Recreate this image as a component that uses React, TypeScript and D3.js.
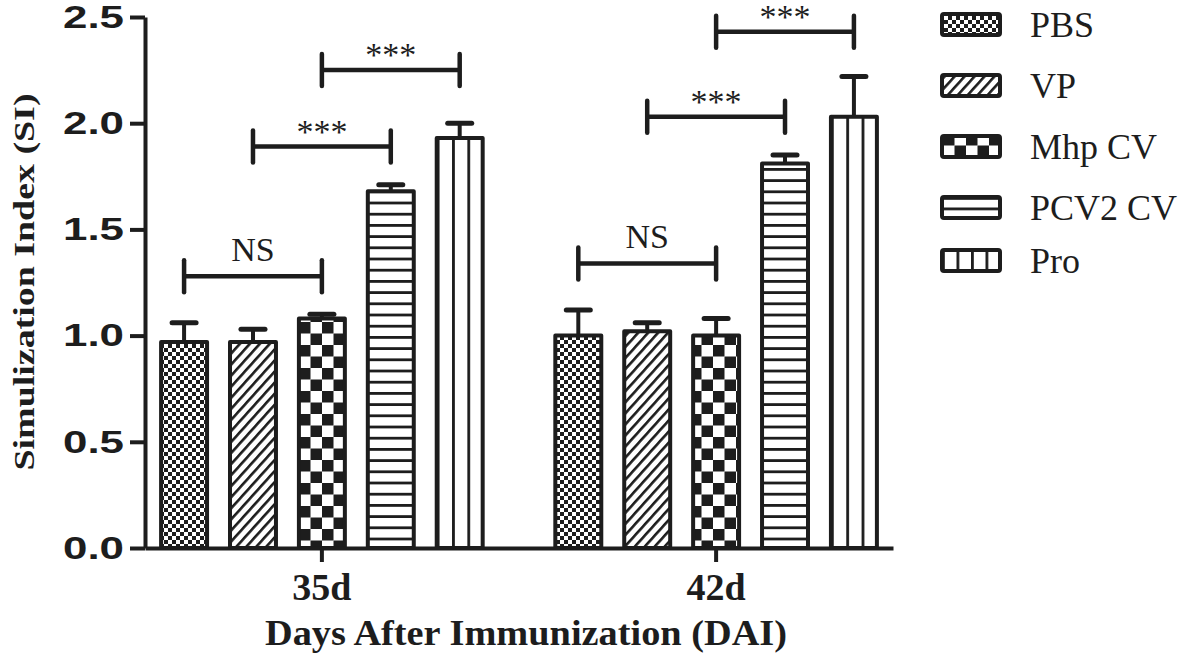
import React, { useEffect, useRef } from 'react';
import * as d3 from 'd3';

// chart data
const groups = ['35d', '42d'];
const series = ['PBS', 'VP', 'Mhp CV', 'PCV2 CV', 'Pro'];
const means35 = [0.97, 0.97, 1.08, 1.68, 1.93];
const means42 = [1.0, 1.02, 1.0, 1.81, 2.03];
const sem35 = [0.09, 0.06, 0.02, 0.03, 0.07];
const sem42 = [0.12, 0.04, 0.08, 0.04, 0.19];
const yTicks = [0, 0.5, 1.0, 1.5, 2.0, 2.5];

// significance brackets (same pairs in both groups)
const sigPairs = [['PBS', 'Mhp CV'], ['VP', 'PCV2 CV'], ['Mhp CV', 'Pro']];
const sigLabels = ['NS', '***', '***'];
const sigLevels35 = [1.28, 1.89, 2.25];
const sigLevels42 = [1.34, 2.03, 2.43];

const INK = '#1d1d1d';
const SERIF = '"Liberation Serif", "Times New Roman", serif';
const SANS = '"Liberation Sans", Arial, sans-serif';

const App = () => {
  const ref = useRef<SVGSVGElement>(null);

  useEffect(() => {
    const svg = d3.select(ref.current);
    svg.selectAll('*').remove();

    const x0 = d3.scaleBand().domain(groups).range([145, 893])
      .paddingInner(0.1266).paddingOuter(0.012);
    const x1 = d3.scaleBand().domain(series).range([0, x0.bandwidth()])
      .paddingInner(0.333).paddingOuter(0.165);
    const y = d3.scaleLinear().domain([0, 2.5]).range([548, 17]);

    // fill patterns
    const defs = svg.append('defs');
    const pat = (id: string, w: number, h: number, units = 'userSpaceOnUse') =>
      defs.append('pattern').attr('id', id).attr('patternUnits', units)
        .attr('width', w).attr('height', h);

    const small = pat('p0', 8, 8);
    small.append('rect').attr('width', 8).attr('height', 8).attr('fill', '#fff');
    small.append('rect').attr('width', 4).attr('height', 4).attr('fill', INK);
    small.append('rect').attr('x', 4).attr('y', 4).attr('width', 4).attr('height', 4).attr('fill', INK);

    const diag = pat('p1', 7.4, 20).attr('patternTransform', 'rotate(42)');
    diag.append('rect').attr('width', 7.4).attr('height', 20).attr('fill', '#fff');
    diag.append('rect').attr('width', 2.6).attr('height', 20).attr('fill', INK);

    const big = pat('p2', 23, 23);
    big.append('rect').attr('width', 23).attr('height', 23).attr('fill', '#fff');
    big.append('rect').attr('width', 11.5).attr('height', 11.5).attr('fill', INK);
    big.append('rect').attr('x', 11.5).attr('y', 11.5).attr('width', 11.5).attr('height', 11.5).attr('fill', INK);

    const hl = pat('p3', 10, 11.2);
    hl.append('rect').attr('width', 10).attr('height', 11.2).attr('fill', '#fff');
    hl.append('rect').attr('width', 10).attr('height', 2.8).attr('fill', INK);

    const vl = pat('p4', 1 / 3, 1, 'objectBoundingBox');
    vl.append('rect').attr('width', 100).attr('height', 2000).attr('fill', '#fff');
    vl.append('rect').attr('width', 2.8).attr('height', 2000).attr('fill', INK);

    // legend versions of the line patterns
    const hlL = pat('l3', 1, 0.5, 'objectBoundingBox');
    hlL.append('rect').attr('width', 200).attr('height', 100).attr('fill', '#fff');
    hlL.append('rect').attr('width', 200).attr('height', 2.8).attr('fill', INK);
    const vlL = pat('l4', 0.25, 1, 'objectBoundingBox');
    vlL.append('rect').attr('width', 100).attr('height', 100).attr('fill', '#fff');
    vlL.append('rect').attr('width', 2.8).attr('height', 100).attr('fill', INK);

    const barFill = ['p0', 'p1', 'p2', 'p3', 'p4'];
    const legendFill = ['p0', 'p1', 'p2', 'l3', 'l4'];

    const rows = groups.flatMap((g, gi) =>
      series.map((s, si) => ({
        g, s, si,
        v: gi === 0 ? means35[si] : means42[si],
        e: gi === 0 ? sem35[si] : sem42[si],
      })));

    const cx = (g: string, s: string) => (x0(g) ?? 0) + (x1(s) ?? 0) + x1.bandwidth() / 2;

    // error bars
    const err = svg.append('g').attr('stroke', INK);
    err.selectAll('line.stem').data(rows).enter().append('line')
      .attr('class', 'stem')
      .attr('x1', d => cx(d.g, d.s)).attr('x2', d => cx(d.g, d.s))
      .attr('y1', d => y(d.v)).attr('y2', d => y(d.v + d.e))
      .attr('stroke-width', 4);
    err.selectAll('line.cap').data(rows).enter().append('line')
      .attr('class', 'cap')
      .attr('x1', d => cx(d.g, d.s) - 12).attr('x2', d => cx(d.g, d.s) + 12)
      .attr('y1', d => y(d.v + d.e)).attr('y2', d => y(d.v + d.e))
      .attr('stroke-width', 5).attr('stroke-linecap', 'round');

    // bars
    svg.append('g').selectAll('rect').data(rows).enter().append('rect')
      .attr('x', d => (x0(d.g) ?? 0) + (x1(d.s) ?? 0))
      .attr('y', d => y(d.v))
      .attr('width', x1.bandwidth())
      .attr('height', d => y(0) - y(d.v))
      .attr('fill', d => `url(#${barFill[d.si]})`)
      .attr('stroke', INK).attr('stroke-width', 4).attr('stroke-linejoin', 'round');

    // axes
    const yAxis = svg.append('g').attr('transform', 'translate(145,0)')
      .call(d3.axisLeft(y).tickValues(yTicks).tickFormat(d3.format('.1f'))
        .tickSize(15).tickSizeOuter(0).tickPadding(6));
    const xAxis = svg.append('g').attr('transform', `translate(0,${y(0)})`)
      .call(d3.axisBottom(x0).tickSize(14).tickSizeOuter(0).tickPadding(11));
    [yAxis, xAxis].forEach(a => {
      a.select('.domain').attr('stroke', INK).attr('stroke-width', 4);
      a.selectAll('.tick line').attr('stroke', INK).attr('stroke-width', 4);
    });
    yAxis.selectAll('.tick text')
      .attr('fill', INK).attr('font-family', SANS).attr('font-weight', 'bold')
      .attr('font-size', 32).attr('textLength', 61).attr('lengthAdjust', 'spacingAndGlyphs');
    xAxis.selectAll('.tick text')
      .attr('fill', INK).attr('font-family', SERIF).attr('font-weight', 'bold')
      .attr('font-size', 38);

    // axis titles
    svg.append('text')
      .attr('transform', 'translate(34,282) rotate(-90)')
      .attr('text-anchor', 'middle')
      .attr('font-family', SERIF).attr('font-weight', 'bold').attr('font-size', 30)
      .attr('textLength', 377).attr('lengthAdjust', 'spacingAndGlyphs')
      .attr('fill', INK)
      .text('Simulization Index (SI)');
    svg.append('text')
      .attr('x', 526).attr('y', 645)
      .attr('text-anchor', 'middle')
      .attr('font-family', SERIF).attr('font-weight', 'bold').attr('font-size', 35)
      .attr('textLength', 522).attr('lengthAdjust', 'spacingAndGlyphs')
      .attr('fill', INK)
      .text('Days After Immunization (DAI)');

    // significance brackets
    const sig = groups.flatMap((g, gi) =>
      sigPairs.map((p, i) => ({
        a: cx(g, p[0]), b: cx(g, p[1]),
        lv: gi === 0 ? sigLevels35[i] : sigLevels42[i],
        label: sigLabels[i],
      })));
    const br = svg.append('g').selectAll('g').data(sig).enter().append('g');
    br.append('line')
      .attr('x1', d => d.a).attr('x2', d => d.b)
      .attr('y1', d => y(d.lv)).attr('y2', d => y(d.lv))
      .attr('stroke', INK).attr('stroke-width', 4.5);
    ['a', 'b'].forEach(k => {
      br.append('line')
        .attr('x1', (d: any) => d[k]).attr('x2', (d: any) => d[k])
        .attr('y1', d => y(d.lv) - 16).attr('y2', d => y(d.lv) + 16)
        .attr('stroke', INK).attr('stroke-width', 4.5).attr('stroke-linecap', 'round');
    });
    br.append('text')
      .attr('x', d => (d.a + d.b) / 2)
      .attr('y', d => y(d.lv) - (d.label === 'NS' ? 15 : 4))
      .attr('text-anchor', 'middle')
      .attr('font-family', SERIF).attr('font-size', 34).attr('fill', INK)
      .text(d => d.label);

    // legend (last row sits a little closer, as in the figure)
    const legendY = [12, 73, 134, 195, 248];
    const lg = svg.append('g').selectAll('g').data(series).enter().append('g')
      .attr('transform', (_, i) => `translate(0,${legendY[i]})`);
    lg.append('rect')
      .attr('x', 942).attr('y', 2).attr('width', 58).attr('height', 21)
      .attr('rx', 2)
      .attr('fill', (_, i) => `url(#${legendFill[i]})`)
      .attr('stroke', INK).attr('stroke-width', 4);
    lg.append('text')
      .attr('x', 1030).attr('y', 25)
      .attr('font-family', SERIF).attr('font-size', 36).attr('fill', INK)
      .text(d => d);
  }, []);

  return (
    <svg ref={ref} width={1181} height={662}
      style={{ position: 'absolute', left: 0, top: 0, background: '#fff' }} />
  );
};

export default App;
